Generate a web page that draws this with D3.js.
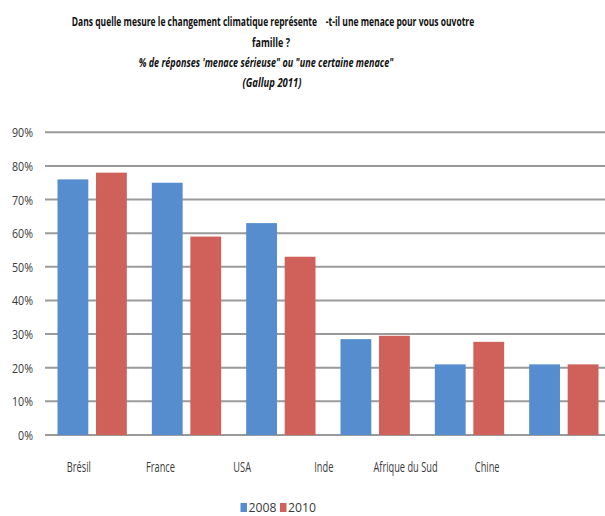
<!DOCTYPE html>
<html>
<head>
<meta charset="utf-8">
<script src="https://cdn.jsdelivr.net/npm/d3@7"></script>
<style>
  body { margin: 0; background: #fff; }
  text { font-family: "Open Sans", "Noto Sans", sans-serif; fill: #3a3a3a; }
</style>
</head>
<body>
<svg id="chart" width="605" height="516"></svg>
<script>
// data
var pays = ["Brésil", "France", "USA", "Inde", "Afrique du Sud", "Chine"];
var annees = ["2008", "2010"];
var v2008 = [76, 75, 63, 28.5, 21, 21];
var v2010 = [78, 59, 53, 29.5, 27.7, 21];
var ticksY = [0, 10, 20, 30, 40, 50, 60, 70, 80, 90];
var titre = [
  "Dans quelle mesure le changement climatique représente    -t-il une menace pour vous ouvotre",
  "famille ?"
];
var sousTitre = ["% de réponses 'menace sérieuse\" ou \"une certaine menace\"", "(Gallup 2011)"];

var couleurs = ["#568dcf", "#cf605a"];

var svg = d3.select("#chart");

var yTop = 132.3, yBottom = 435;

var y = d3.scaleLinear().domain([0, 90]).range([yBottom, yTop]);

// bars groups
var x = d3.scaleBand().domain(pays).range([45, 611]).paddingInner(0).paddingOuter(0);
var xIn = d3.scaleBand().domain(annees).range([12.5, x.bandwidth() - 12.5]).paddingInner(0.2);
// category labels sit a bit to the left of the bars in the reference
var xLab = d3.scaleBand().domain(pays).range([38, 528]);

// the reference font is a narrow one (Calibri-like): squeeze texts horizontally
function etroit(sel, sx) {
  sel.attr("transform", function() {
    var t = d3.select(this);
    var px = +t.attr("x"), py = +t.attr("y");
    t.attr("x", 0).attr("y", 0);
    return "translate(" + px + "," + py + ") scale(" + sx + ",1)";
  });
}
// squeeze a text to a given width
function largeur(sel, w) {
  sel.each(function() {
    var n = this.getComputedTextLength();
    etroit(d3.select(this), w / n);
  });
}

// gridlines
svg.append("g")
  .selectAll("line")
  .data(ticksY)
  .enter().append("line")
  .attr("x1", 45).attr("x2", 605)
  .attr("y1", function(d){ return y(d); })
  .attr("y2", function(d){ return y(d); })
  .attr("stroke", "#9a9a9a")
  .attr("stroke-width", 2);

// y labels
svg.append("g")
  .selectAll("text")
  .data(ticksY)
  .enter().append("text")
  .attr("x", 33)
  .attr("y", function(d){ return y(d) + 5; })
  .attr("text-anchor", "end")
  .style("font-size", "13.5px")
  .text(function(d){ return d + "%"; })
  .call(etroit, 0.79);

// bars
var series = [v2008, v2010];
var groupe = svg.append("g")
  .selectAll("g")
  .data(pays)
  .enter().append("g")
  .attr("transform", function(d){ return "translate(" + x(d) + ",0)"; });

groupe.selectAll("rect")
  .data(function(d, i){ return annees.map(function(a, j){ return {annee: a, v: series[j][i], j: j}; }); })
  .enter().append("rect")
  .attr("x", function(d){ return xIn(d.annee); })
  .attr("width", xIn.bandwidth())
  .attr("y", function(d){ return y(d.v); })
  .attr("height", function(d){ return y(0) - y(d.v); })
  .attr("fill", function(d){ return couleurs[d.j]; });

// category labels
svg.append("g")
  .selectAll("text")
  .data(pays)
  .enter().append("text")
  .attr("x", function(d){ return xLab(d) + xLab.bandwidth() / 2; })
  .attr("y", 472)
  .attr("text-anchor", "middle")
  .style("font-size", "14px")
  .text(function(d){ return d; })
  .call(etroit, 0.66);

// titles
svg.append("text")
  .attr("x", 273).attr("y", 26)
  .attr("text-anchor", "middle")
  .style("font-size", "13px").style("font-weight", "bold").style("fill", "#111")
  .style("white-space", "pre")
  .text(titre[0])
  .call(largeur, 403);
svg.append("text")
  .attr("x", 271).attr("y", 47)
  .attr("text-anchor", "middle")
  .style("font-size", "13px").style("font-weight", "bold").style("fill", "#111")
  .text(titre[1])
  .call(largeur, 38);
svg.append("text")
  .attr("x", 266).attr("y", 67)
  .attr("text-anchor", "middle")
  .style("font-size", "13px").style("font-weight", "bold").style("font-style", "italic").style("fill", "#111")
  .text(sousTitre[0])
  .call(largeur, 255);
svg.append("text")
  .attr("x", 272).attr("y", 87)
  .attr("text-anchor", "middle")
  .style("font-size", "13px").style("font-weight", "bold").style("font-style", "italic").style("fill", "#111")
  .text(sousTitre[1])
  .call(largeur, 59);

// legend
var leg = svg.append("g")
  .selectAll("g")
  .data(annees)
  .enter().append("g")
  .attr("transform", function(d, i){ return "translate(" + (240.5 + i * 39.5) + ",503)"; });
leg.append("rect")
  .attr("width", 6.5).attr("height", 9)
  .attr("fill", function(d, i){ return couleurs[i]; });
leg.append("text")
  .attr("x", 8).attr("y", 9)
  .style("font-size", "12px")
  .text(function(d){ return d; })
  .call(largeur, 28);
</script>
</body>
</html>
